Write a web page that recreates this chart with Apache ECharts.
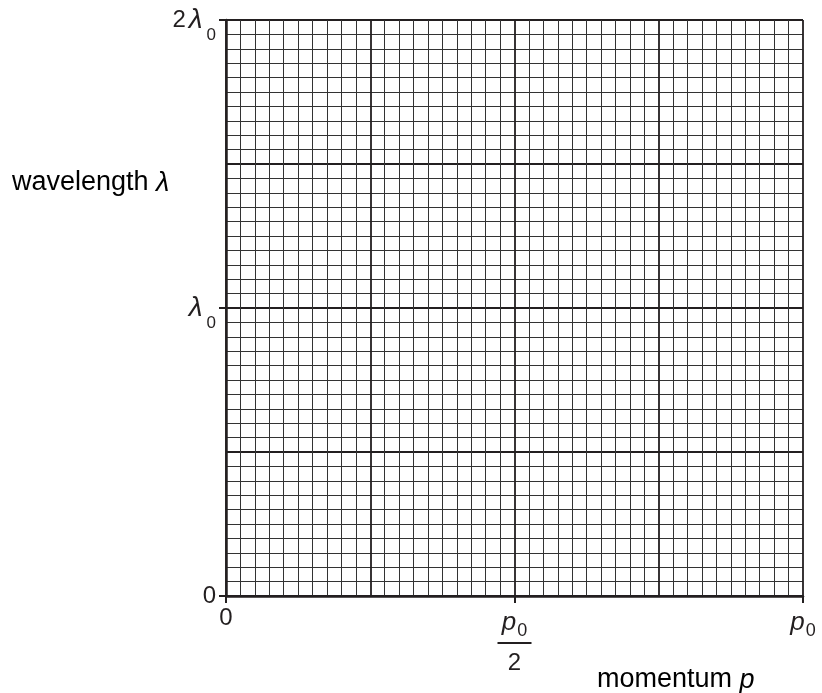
<!DOCTYPE html>
<html><head><meta charset="utf-8">
<script src="https://cdn.jsdelivr.net/npm/echarts@6/dist/echarts.min.js"></script>
<style>html,body{margin:0;padding:0;background:#fff}#c{width:822px;height:693px}</style>
</head><body><div id="c"></div>
<script>
// ---- data ----
const xMin = 0, xMax = 1;            // momentum, in units of p0
const yMin = 0, yMax = 2;            // wavelength, in units of λ0
const xMajorStep = 0.25;             // heavy grid lines
const yMajorStep = 0.5;
const minorPerMajor = 10;            // small squares per heavy square
const xTickStep = 0.5;               // labelled ticks
const yTickStep = 1;
const xTickValues = [0, 0.5, 1];
const xTickLabels = ['{z|0}', '{p|p}{sx|0}\n{bar| }\n{d|2}', '{p|p}{sx|0}'];
const yTickValues = [0, 1, 2];
const yTickLabels = ['{n|0}', '{l|λ}{s|0}', '{n|2}{l|λ}{s|0}'];
const xAxisName = 'momentum ';
const xAxisSymbol = 'p';
const yAxisName = 'wavelength ';
const yAxisSymbol = 'λ';

const INK = '#231f20';
const FONT = '"Liberation Sans", Arial, sans-serif';

const rich = {
  n: {fontSize: 24, fontFamily: FONT, color: INK, lineHeight: 30},
  z: {fontSize: 24, fontFamily: FONT, color: INK, lineHeight: 24},
  d: {fontSize: 24, fontFamily: FONT, color: INK, lineHeight: 26},
  l: {fontSize: 28, fontFamily: FONT, color: INK, fontStyle: 'italic', padding: [0, 3, 0, 3]},
  s: {fontSize: 17, fontFamily: FONT, color: INK, lineHeight: 17, padding: [30, 0, 0, 1]},
  p: {fontSize: 26, fontFamily: FONT, color: INK, fontStyle: 'italic', lineHeight: 30, padding: [4, 0, 0, 0]},
  sx: {fontSize: 18, fontFamily: FONT, color: INK, lineHeight: 18, padding: [20, 0, 0, 1]},
  bar: {width: 34, height: 2, lineHeight: 14, backgroundColor: INK, fontSize: 2}
};

const lab = (vals, labels) => v => {
  const i = vals.findIndex(t => Math.abs(t - v) < 1e-9);
  return i < 0 ? '' : labels[i];
};

const gridAxis = (min, max, step) => ({
  type: 'value', min: min, max: max, interval: step,
  axisLine: {show: false}, axisTick: {show: false}, axisLabel: {show: false},
  minorTick: {show: false, splitNumber: minorPerMajor},
  splitLine: {show: true, lineStyle: {color: INK, width: 1.8}},
  minorSplitLine: {show: true, lineStyle: {color: '#333', width: 1}}
});

const chart = echarts.init(document.getElementById('c'), null, {renderer: 'canvas'});
chart.setOption({
  animation: false,
  backgroundColor: '#fff',
  grid: {left: 226, right: 19, top: 20, bottom: 97, containLabel: false, outerBoundsMode: 'none'},
  xAxis: [
    Object.assign(gridAxis(xMin, xMax, xMajorStep), {position: 'top', z: 1}),
    {
      type: 'value', min: xMin, max: xMax, interval: xTickStep, position: 'bottom', z: 5,
      axisLine: {show: true, onZero: false, lineStyle: {color: INK, width: 2.5}},
      axisTick: {show: true, inside: false, length: 7, lineStyle: {color: INK, width: 2}},
      splitLine: {show: false},
      axisLabel: {show: true, margin: 10, verticalAlign: 'top', formatter: lab(xTickValues, xTickLabels), rich: rich}
    }
  ],
  yAxis: [
    Object.assign(gridAxis(yMin, yMax, yMajorStep), {position: 'right', z: 1}),
    {
      type: 'value', min: yMin, max: yMax, interval: yTickStep, position: 'left', z: 5,
      axisLine: {show: true, onZero: false, lineStyle: {color: INK, width: 2.5}},
      axisTick: {show: true, inside: false, length: 7, lineStyle: {color: INK, width: 2}},
      splitLine: {show: false},
      axisLabel: {show: true, margin: 10, formatter: lab(yTickValues, yTickLabels), rich: rich}
    }
  ],
  graphic: [
    {type: 'text', x: 12, y: 183, style: {
      text: '{a|' + yAxisName + '}{b|' + yAxisSymbol + '}', verticalAlign: 'middle', align: 'left',
      rich: {a: {fontSize: 27, fontFamily: FONT, color: INK}, b: {fontSize: 27, fontFamily: FONT, fontStyle: 'italic', color: INK}}
    }},
    {type: 'text', x: 597, y: 680, style: {
      text: '{a|' + xAxisName + '}{b|' + xAxisSymbol + '}', verticalAlign: 'middle', align: 'left',
      rich: {a: {fontSize: 27, fontFamily: FONT, color: INK}, b: {fontSize: 27, fontFamily: FONT, fontStyle: 'italic', color: INK}}
    }}
  ],
  series: [{type: 'line', data: [], xAxisIndex: 1, yAxisIndex: 1, silent: true}]
});
</script>
</body></html>
